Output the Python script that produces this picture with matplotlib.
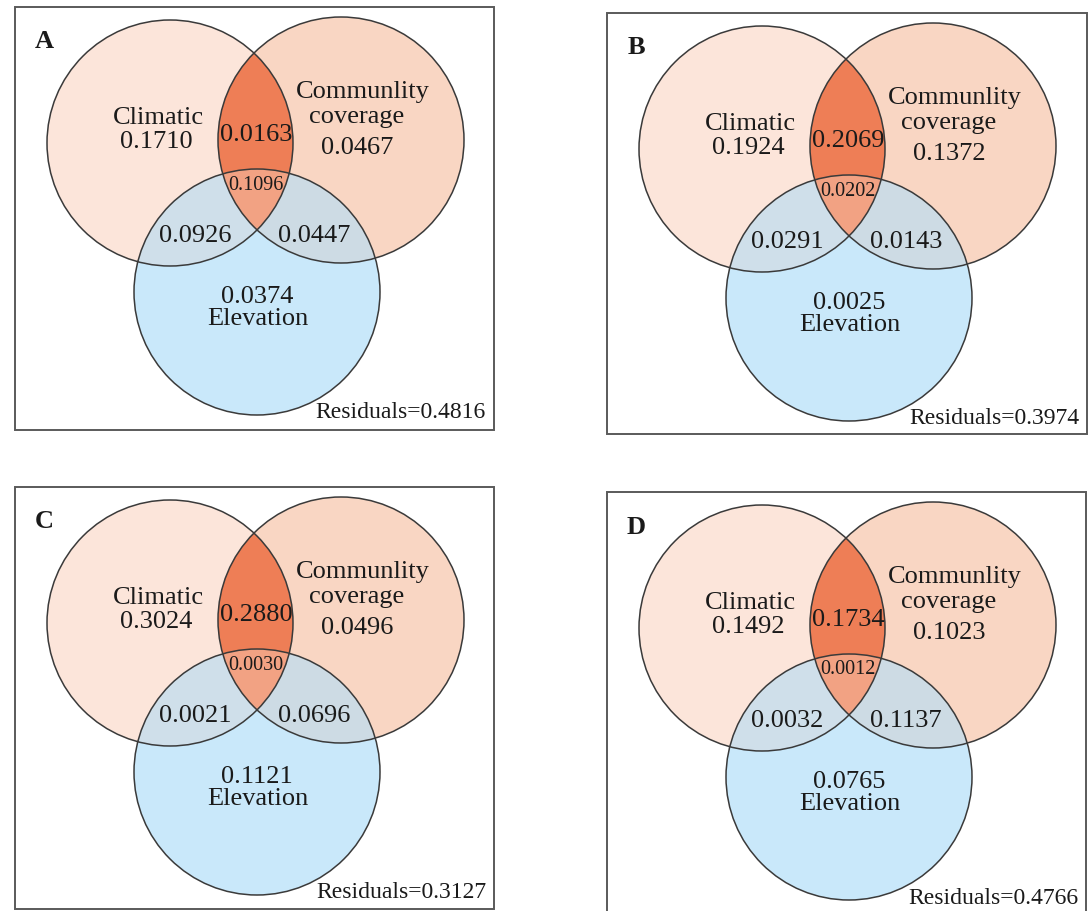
import numpy as np
import matplotlib
matplotlib.use("Agg")
import matplotlib.pyplot as plt
from matplotlib.patches import Circle, Rectangle, Polygon

# Variance partitioning results (fractions of explained variance)
panel_labels = ["A", "B", "C", "D"]
climatic_only = [0.1710, 0.1924, 0.3024, 0.1492]
coverage_only = [0.0467, 0.1372, 0.0496, 0.1023]
elevation_only = [0.0374, 0.0025, 0.1121, 0.0765]
climatic_coverage = [0.0163, 0.2069, 0.2880, 0.1734]
climatic_elevation = [0.0926, 0.0291, 0.0021, 0.0032]
coverage_elevation = [0.0447, 0.0143, 0.0696, 0.1137]
shared_all = [0.1096, 0.0202, 0.0030, 0.0012]
residuals = [0.4816, 0.3974, 0.3127, 0.4766]

# Figure in pixel units
W, H = 1091, 911
fig = plt.figure(figsize=(W / 100, H / 100), dpi=100)
ax = fig.add_axes([0, 0, 1, 1])
ax.set_xlim(0, W)
ax.set_ylim(H, 0)
ax.axis("off")

FONT = "Liberation Serif"

# Panel frames (left, top, width, height)
frames = [(15, 7, 479, 423), (607, 13, 480, 421), (15, 487, 479, 422), (607, 492, 479, 424)]

# Circle layout relative to frame top-left
R = 123
c_left = np.array([155.0, 136.0])
c_right = np.array([326.0, 133.0])
c_bottom = np.array([242.0, 285.0])

col_left = "#fce5da"
col_right = "#f9d6c3"
col_bottom = "#c9e8fa"
col_lb = "#cfdfea"
col_rb = "#cddbe4"
col_lr = "#ee7e56"
col_all = "#f2a283"
edge = "#3a3a3a"


def lens_polygon(c1, c2, r, n=120):
    d = np.linalg.norm(c2 - c1)
    phi = np.arccos(d / (2 * r))
    t12 = np.arctan2(c2[1] - c1[1], c2[0] - c1[0])
    t21 = t12 + np.pi
    a1 = np.linspace(t12 - phi, t12 + phi, n)
    a2 = np.linspace(t21 - phi, t21 + phi, n)
    p1 = np.column_stack([c1[0] + r * np.cos(a1), c1[1] + r * np.sin(a1)])
    p2 = np.column_stack([c2[0] + r * np.cos(a2), c2[1] + r * np.sin(a2)])
    return np.vstack([p1, p2])


for i, (fx, fy, fw, fh) in enumerate(frames):
    off = np.array([fx, fy], dtype=float)
    cl, cr, cb = c_left + off, c_right + off, c_bottom + off

    ax.add_patch(Rectangle((fx, fy), fw, fh, facecolor="white",
                           edgecolor="#5a5a5a", linewidth=1.4, zorder=1))

    for c, col in ((cl, col_left), (cr, col_right), (cb, col_bottom)):
        ax.add_patch(Circle(c, R, facecolor=col, edgecolor="none", zorder=2))

    # pairwise overlaps with the elevation circle
    clip_l = Circle(cl, R, transform=ax.transData)
    clip_r = Circle(cr, R, transform=ax.transData)
    p_lb = Circle(cb, R, facecolor=col_lb, edgecolor="none", zorder=3)
    ax.add_patch(p_lb)
    p_lb.set_clip_path(clip_l)
    p_rb = Circle(cb, R, facecolor=col_rb, edgecolor="none", zorder=3)
    ax.add_patch(p_rb)
    p_rb.set_clip_path(clip_r)
    # climatic / coverage lens
    lens_lr = lens_polygon(cl, cr, R)
    ax.add_patch(Polygon(lens_lr, closed=True, facecolor=col_lr,
                         edgecolor="none", zorder=4))
    # triple overlap
    lens_clip = Polygon(lens_lr, closed=True, transform=ax.transData)
    p_all = Circle(cb, R, facecolor=col_all, edgecolor="none", zorder=5)
    ax.add_patch(p_all)
    p_all.set_clip_path(lens_clip)

    for c in (cl, cr, cb):
        ax.add_patch(Circle(c, R, facecolor="none", edgecolor=edge,
                            linewidth=1.1, zorder=6))

    def put(x, y, s, size=19, ha="center", **kw):
        ax.text(fx + x, fy + y, s, fontsize=size, family=FONT,
                ha=ha, va="center", color="#1a1a1a", zorder=7, **kw)

    put(29, 35, panel_labels[i], fontweight="bold")

    put(143, 111, "Climatic")
    put(141, 135, f"{climatic_only[i]:.4f}")
    put(348, 85, "Communlity")
    put(342, 110, "coverage")
    put(342, 141, f"{coverage_only[i]:.4f}")
    put(242, 290, f"{elevation_only[i]:.4f}")
    put(243, 312, "Elevation")
    put(241, 128, f"{climatic_coverage[i]:.4f}")
    put(241, 178, f"{shared_all[i]:.4f}", size=14.5)
    put(180, 229, f"{climatic_elevation[i]:.4f}")
    put(299, 229, f"{coverage_elevation[i]:.4f}")
    put(fw - 8, 406, f"Residuals={residuals[i]:.4f}", size=17, ha="right")

fig.savefig("out.png", dpi=100)
